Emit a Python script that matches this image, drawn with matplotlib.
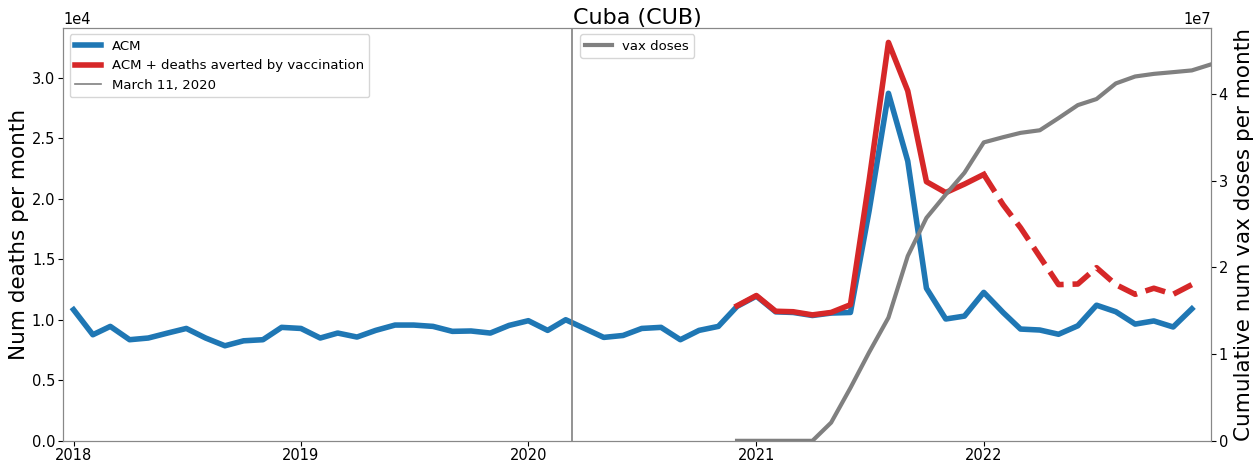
import matplotlib.pyplot as plt
import matplotlib.dates as mdates
import pandas as pd

# monthly all-cause mortality, Jan 2018 .. Dec 2022
acm = [10830, 8760, 9450, 8350, 8490, 8900, 9280, 8490, 7850, 8260, 8350, 9370,
       9280, 8490, 8900, 8570, 9120, 9560, 9560, 9450, 9040, 9070, 8900, 9530,
       9920, 9120, 10000, 9260, 8540, 8700, 9280, 9370, 8350, 9120, 9450, 11100,
       11950, 10650, 10600, 10350, 10550, 10600, 19000, 28700, 23100, 12600, 10060, 10300,
       12260, 10600, 9230, 9150, 8800, 9500, 11200, 10660, 9640, 9900, 9400, 10900]

# ACM + deaths averted, Dec 2020 .. Dec 2022 (dashed from Jan 2022)
acm_averted = [11150, 12000, 10700, 10660, 10400, 10600, 11240, 21500, 32900, 28900,
               21400, 20500, 21200, 22000, 19500, 17600, 15200, 12900, 12950, 14300,
               12900, 12100, 12600, 12100, 12900]

# cumulative vaccine doses, Dec 2020 .. Jan 2023
vax = [0, 0, 0, 0, 0, 0.21e7, 0.61e7, 1.02e7, 1.42e7, 2.13e7, 2.57e7, 2.84e7, 3.09e7,
       3.44e7, 3.50e7, 3.55e7, 3.58e7, 3.72e7, 3.87e7, 3.94e7, 4.12e7, 4.20e7,
       4.23e7, 4.25e7, 4.27e7, 4.34e7]

years = ['2018', '2019', '2020', '2021', '2022']

months = pd.date_range('2018-01-01', periods=len(acm), freq='MS')
red_months = pd.date_range('2020-12-01', periods=len(acm_averted), freq='MS')
vax_months = pd.date_range('2020-12-01', periods=len(vax), freq='MS')
split = 13  # Jan 2022 index in red series

fig, ax = plt.subplots(figsize=(12.59, 4.65), dpi=100)
fig.subplots_adjust(left=0.05, right=0.962, top=0.94, bottom=0.052)

ax.plot(months, acm, color='#1f77b4', lw=4, label='ACM')
ax.plot(red_months[:split + 1], acm_averted[:split + 1], color='#d62728', lw=4,
        label='ACM + deaths averted by vaccination')
ax.plot(red_months[split:], acm_averted[split:], color='#d62728', lw=4, ls='--')
ax.axvline(pd.Timestamp('2020-03-11'), color='grey', lw=1.2, label='March 11, 2020')

ax.set_ylim(0, 34100)
ax.set_xlim(pd.Timestamp('2017-12-15'), pd.Timestamp('2023-01-01'))
ax.set_xticks([pd.Timestamp(y + '-01-01') for y in years])
ax.xaxis.set_major_formatter(mdates.DateFormatter('%Y'))
ax.ticklabel_format(axis='y', style='sci', scilimits=(0, 0))
ax.set_ylabel('Num deaths per month', fontsize=15.5, labelpad=2)
ax.tick_params(labelsize=10.5, pad=2)
ax.yaxis.get_offset_text().set_fontsize(10.5)
ax.legend(loc='upper left', fontsize=9.5)
ax.set_title('Cuba (CUB)', fontsize=16, pad=3)

ax2 = ax.twinx()
ax2.plot(vax_months, vax, color='grey', lw=3, label='vax doses')
ax2.set_ylim(0, 4.76e7)
ax2.set_ylabel('Cumulative num vax doses per month', fontsize=15.5, labelpad=4)
ax2.tick_params(labelsize=10.5, pad=2)
ax2.yaxis.get_offset_text().set_fontsize(10.5)
ax2.legend(loc='upper center', fontsize=9.5)

for a in (ax, ax2):
    for s in a.spines.values():
        s.set_color('#888888')

fig.savefig('out.png')
